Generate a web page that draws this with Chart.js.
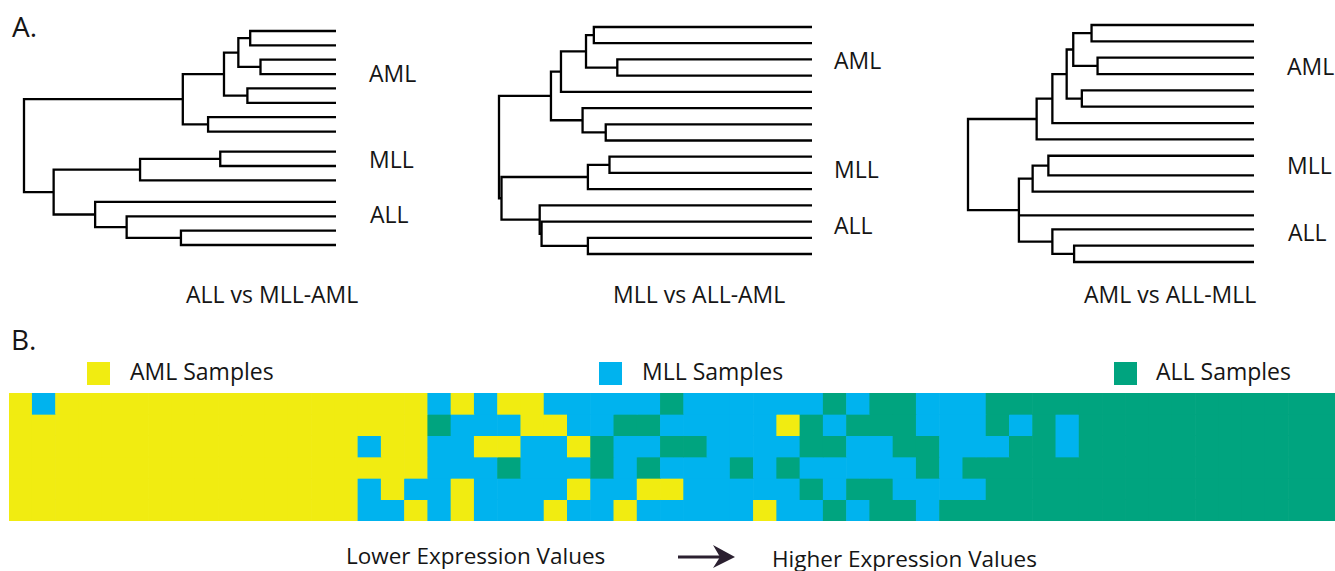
<!DOCTYPE html>
<html>
<head>
<meta charset="utf-8">
<script src="https://cdn.jsdelivr.net/npm/chart.js@4.4.1/dist/chart.umd.min.js"></script>
<style>
body { margin: 0; background: #fff; }
#fig { position: relative; width: 1335px; height: 571px; overflow: hidden; font-family: "Open Sans", sans-serif; color: #151515; }
.box { position: absolute; }
.txt { position: absolute; font-size: 23px; line-height: 23px; white-space: nowrap; }
.big { font-size: 28px; line-height: 28px; }
.small { font-size: 22.5px; line-height: 22.5px; }
.sq { position: absolute; width: 23px; height: 23px; }
</style>
</head>
<body>
<div id="fig">
    <div class="txt big" style="left:12px;top:12px;">A.</div>

    <div class="box" id="tree1box"><canvas id="tree1"></canvas></div>
    <div class="box" id="tree2box"><canvas id="tree2"></canvas></div>
    <div class="box" id="tree3box"><canvas id="tree3"></canvas></div>

    <div class="txt" style="left:369px;top:62px;">AML</div>
    <div class="txt" style="left:369px;top:148px;">MLL</div>
    <div class="txt" style="left:370px;top:203px;">ALL</div>
    <div class="txt" style="left:186px;top:283px;">ALL vs MLL-AML</div>

    <div class="txt" style="left:834px;top:49px;">AML</div>
    <div class="txt" style="left:834px;top:158px;">MLL</div>
    <div class="txt" style="left:834px;top:214px;">ALL</div>
    <div class="txt" style="left:613px;top:283px;">MLL vs ALL-AML</div>

    <div class="txt" style="left:1287px;top:55px;">AML</div>
    <div class="txt" style="left:1287px;top:154px;">MLL</div>
    <div class="txt" style="left:1288px;top:221px;">ALL</div>
    <div class="txt" style="left:1084px;top:283px;">AML vs ALL-MLL</div>

    <div class="txt big" style="left:11px;top:325px;">B.</div>

    <div class="sq" id="sqA" style="left:87px;top:362px;"></div>
    <div class="txt" style="left:130px;top:360px;">AML Samples</div>
    <div class="sq" id="sqM" style="left:599px;top:362px;"></div>
    <div class="txt" style="left:642px;top:360px;">MLL Samples</div>
    <div class="sq" id="sqL" style="left:1114px;top:362px;"></div>
    <div class="txt" style="left:1156px;top:360px;">ALL Samples</div>

    <div class="box" id="heatbox"><canvas id="heat"></canvas></div>

    <div class="txt small" style="left:346px;top:545px;">Lower Expression Values</div>
    <svg class="box" style="left:676px;top:543px;" width="62" height="28">
        <line x1="2" y1="14" x2="46" y2="14" stroke="#2b2030" stroke-width="3"/>
        <path d="M37 2 L59 14 L37 25 L44 14 Z" fill="#2b2030"/>
    </svg>
    <div class="txt small" style="left:772px;top:548px;">Higher Expression Values</div>
</div>

<script>
// dendrograms: leaf positions (top to bottom) and merges [children, height]
// nodes 0..14 are leaves, every merge adds a new node numbered 15, 16, ...
var tree1Leaves = [0, 1, 2, 3, 4, 5, 6, 7, 8.4, 9.4, 10.4, 11.9, 12.9, 13.9, 14.9];
var tree1Merges = [
    [[0, 1], 0.275], [[2, 3], 0.242], [[15, 16], 0.313], [[4, 5], 0.284],
    [[17, 18], 0.359], [[6, 7], 0.410], [[19, 20], 0.491],
    [[8, 9], 0.371], [[22, 10], 0.628],
    [[13, 14], 0.497], [[12, 24], 0.671], [[11, 25], 0.772],
    [[23, 26], 0.905], [[21, 27], 1.0]
];

var tree2Leaves = [0, 1, 2, 3, 4, 5, 6, 7, 8, 9, 10, 11, 12, 13, 14];
var tree2Merges = [
    [[0, 1], 0.697], [[2, 3], 0.622], [[15, 16], 0.722], [[17, 4], 0.802],
    [[6, 7], 0.659], [[5, 19], 0.733], [[18, 20], 0.834],
    [[8, 9], 0.647], [[22, 10], 0.716],
    [[13, 14], 0.716], [[12, 24], 0.864], [[11, 25], 0.870],
    [[23, 26], 0.992], [[21, 27], 1.0]
];

var tree3Leaves = [0, 1, 2, 3, 4, 5, 6, 7, 8, 9.2, 10.2, 11.65, 12.5, 13.5, 14.5];
var tree3Merges = [
    [[0, 1], 0.568], [[2, 3], 0.547], [[15, 16], 0.632], [[4, 5], 0.602],
    [[17, 18], 0.655], [[19, 6], 0.705], [[20, 7], 0.760],
    [[8, 9], 0.719], [[22, 10], 0.774],
    [[13, 14], 0.629], [[12, 24], 0.705],
    [[23, 11, 25], 0.822], [[21, 26], 1.0]
];

// heatmap: one string per row, one letter per sample column
// A = AML, M = MLL, L = ALL
var heatRow1 = 'AMAAAAAAAAAAAAAAAAMAMAAMMMMMLMMMMMMLMLLMMMLLLLLLLLLLLLLLL';
var heatRow2 = 'AAAAAAAAAAAAAAAAAALMMMAAMMLLMMMMMALMLLLMMMLMLMLLLLLLLLLLL';
var heatRow3 = 'AAAAAAAAAAAAAAAMAAMMAAMMALMMLLMMMMLLMMLLMMMLLMLLLLLLLLLLL';
var heatRow4 = 'AAAAAAAAAAAAAAAAAAMMMLMMMLMLMMMLMLMMMMMLMLLLLLLLLLLLLLLLL';
var heatRow5 = 'AAAAAAAAAAAAAAAMAMMAMMMMAMMAAMMMMMLMLLMMMMLLLLLLLLLLLLLLL';
var heatRow6 = 'AAAAAAAAAAAAAAAMMAMAMMMAMMAMMMMMAMMLMLLMLLLLLLLLLLLLLLLLL';
var heatRows = [heatRow1, heatRow2, heatRow3, heatRow4, heatRow5, heatRow6];

var classColors = { A: '#f1ec11', M: '#00b3ee', L: '#00a47f' };

document.getElementById('sqA').style.background = classColors.A;
document.getElementById('sqM').style.background = classColors.M;
document.getElementById('sqL').style.background = classColors.L;

// put a chart so that its plot area covers left..right, top..bottom
function place(boxId, left, top, right, bottom, pad) {
    var b = document.getElementById(boxId);
    b.style.left = (left - pad) + 'px';
    b.style.top = (top - pad) + 'px';
    b.style.width = (right - left + 2 * pad) + 'px';
    b.style.height = (bottom - top + 2 * pad) + 'px';
}

function buildSegments(leaves, merges) {
    var nodeY = leaves.slice();
    var nodeH = leaves.map(function () { return 0; });
    var segs = [];
    merges.forEach(function (m) {
        var kids = m[0], h = m[1];
        var ys = kids.map(function (k) { return nodeY[k]; });
        var first = kids[0], last = kids[kids.length - 1];
        segs.push([
            {x: nodeH[first], y: nodeY[first]},
            {x: h, y: nodeY[first]},
            {x: h, y: nodeY[last]},
            {x: nodeH[last], y: nodeY[last]}
        ]);
        kids.slice(1, -1).forEach(function (k) {
            segs.push([{x: nodeH[k], y: nodeY[k]}, {x: h, y: nodeY[k]}]);
        });
        nodeY.push((Math.min.apply(null, ys) + Math.max.apply(null, ys)) / 2);
        nodeH.push(h);
    });
    return segs;
}

function drawTree(canvasId, leaves, merges) {
    var segs = buildSegments(leaves, merges);
    new Chart(document.getElementById(canvasId), {
        type: 'scatter',
        data: {
            datasets: segs.map(function (s) {
                return {
                    data: s,
                    showLine: true,
                    borderColor: '#000',
                    borderWidth: 2.3,
                    pointRadius: 0,
                    borderJoinStyle: 'miter',
                    borderCapStyle: 'butt',
                    tension: 0,
                    clip: false
                };
            })
        },
        options: {
            responsive: true,
            maintainAspectRatio: false,
            animation: false,
            events: [],
            layout: {padding: 4},
            plugins: {legend: {display: false}, tooltip: {enabled: false}},
            scales: {
                x: {type: 'linear', min: 0, max: 1, reverse: true, display: false},
                y: {type: 'linear', min: 0, max: leaves[leaves.length - 1], reverse: true, display: false}
            }
        }
    });
}

place('tree1box', 24, 31, 336, 245, 4);
place('tree2box', 499, 27, 812, 254, 4);
place('tree3box', 968, 25, 1254, 262, 4);
drawTree('tree1', tree1Leaves, tree1Merges);
drawTree('tree2', tree2Leaves, tree2Merges);
drawTree('tree3', tree3Leaves, tree3Merges);

//==============================================================
// heatmap as stacked bars, one dataset per row
place('heatbox', 9, 393, 1335, 521, 0);
var sampleLabels = heatRow1.split('').map(function (c, i) { return 'Sample ' + (i + 1); });

new Chart(document.getElementById('heat'), {
    type: 'bar',
    data: {
        labels: sampleLabels,
        datasets: heatRows.map(function (row, r) {
            var cells = row.split('');
            return {
                label: 'Row ' + (r + 1),
                data: cells.map(function () { return 1; }),
                backgroundColor: cells.map(function (c) { return classColors[c]; }),
                borderWidth: 0,
                barPercentage: 1,
                categoryPercentage: 1,
                stack: 'cells'
            };
        })
    },
    options: {
        responsive: true,
        maintainAspectRatio: false,
        animation: false,
        events: [],
        layout: {padding: 0},
        plugins: {legend: {display: false}, tooltip: {enabled: false}},
        scales: {
            x: {stacked: true, display: false},
            y: {stacked: true, min: 0, max: heatRows.length, reverse: true, display: false}
        }
    }
});
</script>
</body>
</html>
